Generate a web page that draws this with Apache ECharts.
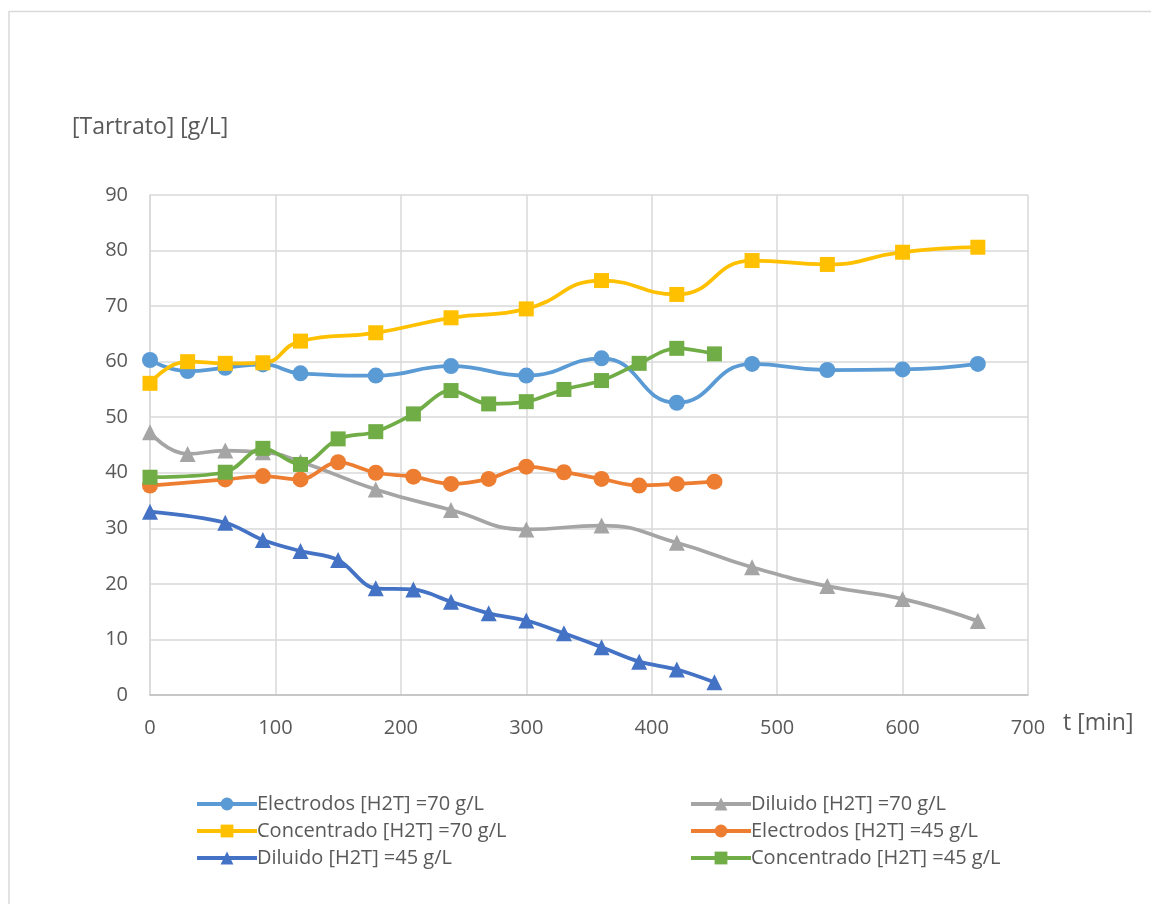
<!DOCTYPE html>
<html>
<head>
<meta charset="utf-8">
<script src="https://cdn.jsdelivr.net/npm/echarts@6/dist/echarts.min.js"></script>
<style>
html,body{margin:0;padding:0;background:#fff;}
#chart{width:1151px;height:904px;}
</style>
</head>
<body>
<div id="chart"></div>
<script>
// Time points (min)
const t70 = [0, 30, 60, 90, 120, 180, 240, 300, 360, 420, 480, 540, 600, 660];
const t45 = [0, 60, 90, 120, 150, 180, 210, 240, 270, 300, 330, 360, 390, 420, 450];

// Series values [g/L]
const electrodos70   = [60.3, 58.3, 58.9, 59.5, 57.9, 57.5, 59.2, 57.5, 60.6, 52.6, 59.6, 58.5, 58.6, 59.6];
const diluido70      = [47.3, 43.4, 44.0, 43.7, 42.0, 37.0, 33.3, 29.8, 30.5, 27.4, 23.0, 19.6, 17.3, 13.3];
const concentrado70  = [56.1, 60.0, 59.7, 59.8, 63.7, 65.2, 67.9, 69.5, 74.6, 72.1, 78.2, 77.5, 79.7, 80.6];
const electrodos45   = [37.7, 38.8, 39.4, 38.8, 41.9, 40.0, 39.3, 38.0, 38.9, 41.1, 40.1, 38.9, 37.7, 38.0, 38.4];
const diluido45      = [33.0, 31.0, 27.9, 25.9, 24.3, 19.2, 19.0, 16.8, 14.7, 13.4, 11.1, 8.6, 6.0, 4.6, 2.3];
const concentrado45  = [39.2, 40.1, 44.4, 41.5, 46.1, 47.4, 50.6, 54.8, 52.4, 52.8, 55.0, 56.6, 59.7, 62.4, 61.4];

const seriesNames = [
  'Electrodos [H2T] =70 g/L',
  'Diluido [H2T] =70 g/L',
  'Concentrado [H2T] =70 g/L',
  'Electrodos [H2T] =45 g/L',
  'Diluido [H2T] =45 g/L',
  'Concentrado [H2T] =45 g/L'
];
const xTicks = [0, 100, 200, 300, 400, 500, 600, 700];
const yTicks = [0, 10, 20, 30, 40, 50, 60, 70, 80, 90];

const pair = (xs, ys) => xs.map((x, i) => [x, ys[i]]);
const FONT = '"Open Sans", "Liberation Sans", sans-serif';
const TXT = '#595959';

function mk(name, xs, ys, color, symbol, size, smooth) {
  return {
    name: name, type: 'line', data: pair(xs, ys),
    smooth: smooth, symbol: symbol, symbolSize: size,
    lineStyle: { color: color, width: 3.75 },
    itemStyle: { color: color },
    emphasis: { disabled: true },
    animation: false
  };
}

const chart = echarts.init(document.getElementById('chart'), null, { renderer: 'canvas' });
const legendCommon = {
  orient: 'vertical', itemWidth: 60, itemHeight: 16, itemGap: 7,
  lineStyle: { width: 4 },
  textStyle: { color: TXT, fontSize: 20, lineHeight: 19, fontFamily: FONT, padding: [0, 0, 0, -5] }
};
chart.setOption({
  backgroundColor: '#fff',
  animation: false,
  grid: { left: 150, right: 123, top: 195, bottom: 209, containLabel: false },
  xAxis: {
    type: 'value', min: xTicks[0], max: xTicks[xTicks.length - 1], interval: 100,
    axisLine: { show: true, lineStyle: { color: '#bfbfbf', width: 1.5 } },
    axisTick: { show: false },
    splitLine: { show: true, lineStyle: { color: '#d9d9d9', width: 1.5 } },
    axisLabel: { color: TXT, fontSize: 20, fontFamily: FONT, margin: 23 }
  },
  yAxis: {
    type: 'value', min: yTicks[0], max: yTicks[yTicks.length - 1], interval: 10,
    axisLine: { show: true, lineStyle: { color: '#d9d9d9', width: 1.5 } },
    axisTick: { show: false },
    splitLine: { show: true, lineStyle: { color: '#d9d9d9', width: 1.5 } },
    axisLabel: { color: TXT, fontSize: 20, fontFamily: FONT, margin: 22 }
  },
  legend: [
    Object.assign({}, legendCommon, { left: 190, top: 789, data: [seriesNames[0], seriesNames[2], seriesNames[4]] }),
    Object.assign({}, legendCommon, { left: 684, top: 789, data: [seriesNames[1], seriesNames[3], seriesNames[5]] })
  ],
  graphic: [
    { type: 'line', shape: { x1: 9, y1: 11.5, x2: 1151, y2: 11.5 }, style: { stroke: '#d9d9d9', lineWidth: 1.5 } },
    { type: 'line', shape: { x1: 9, y1: 11, x2: 9, y2: 904 }, style: { stroke: '#d9d9d9', lineWidth: 1.5 } },
    { type: 'text', left: 72, top: 116, style: { text: '[Tartrato] [g/L]', fill: TXT, fontSize: 23, fontFamily: FONT } },
    { type: 'text', left: 1063, top: 712, style: { text: 't [min]', fill: TXT, fontSize: 23, fontFamily: FONT } }
  ],
  series: [
    mk(seriesNames[0], t70, electrodos70, '#5B9BD5', 'circle', 16, 0.5),
    mk(seriesNames[1], t70, diluido70, '#A5A5A5', 'triangle', 16, 0.5),
    mk(seriesNames[2], t70, concentrado70, '#FFC000', 'rect', 15, 0.5),
    mk(seriesNames[3], t45, electrodos45, '#ED7D31', 'circle', 16, 0.35),
    mk(seriesNames[4], t45, diluido45, '#4472C4', 'triangle', 16, 0.35),
    mk(seriesNames[5], t45, concentrado45, '#70AD47', 'rect', 15, 0.35)
  ]
});
</script>
</body>
</html>
